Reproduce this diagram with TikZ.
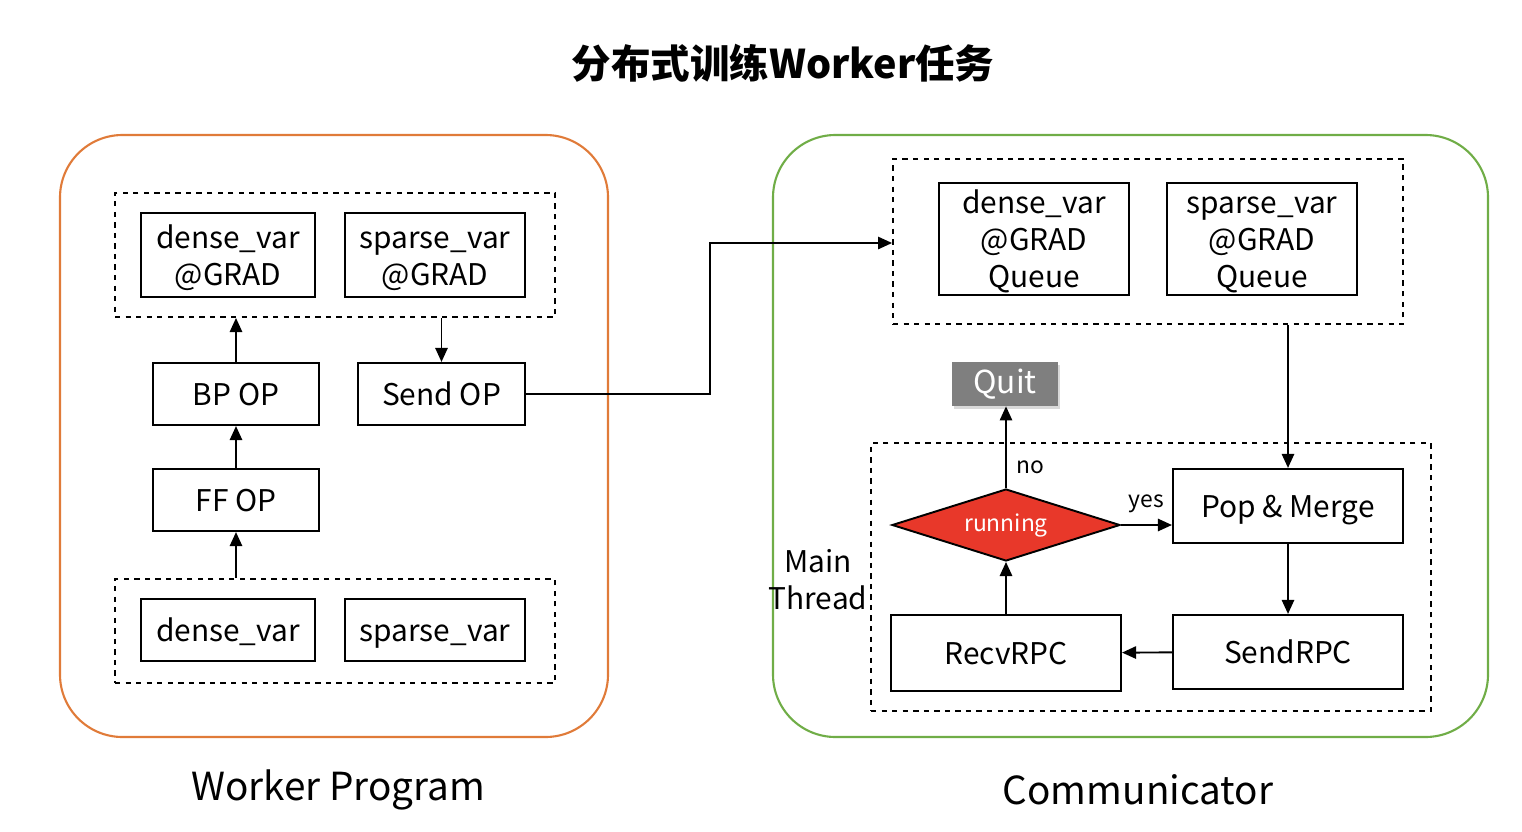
\documentclass[tikz,border=0pt]{standalone}
\usepackage{fontspec}
\setmainfont{Noto Sans CJK SC}
\usetikzlibrary{shapes.geometric,arrows.meta,shadows}
\definecolor{workerorange}{HTML}{E07B39}
\definecolor{commgreen}{HTML}{70AD47}
\definecolor{runred}{HTML}{E8382A}
\definecolor{quitgray}{HTML}{7F7F7F}
\begin{document}
\begin{tikzpicture}[x=0.02cm,y=-0.02cm,
    box/.style={draw,line width=1.2pt,inner sep=0pt,align=center,font=\fontsize{17}{21}\selectfont,
      text depth=0pt},
    group/.style={draw,dashed,line width=1.1pt},
    arr/.style={line width=1.1pt,-{Triangle[length=8pt,width=7pt]}},
    lbl/.style={font=\fontsize{13}{15}\selectfont}]
\useasboundingbox (0,0) rectangle (1522,832);

% Title
\node[font=\fontsize{22.5}{26}\selectfont\bfseries] (title) at (783,63) {分布式训练Worker任务};

% Outer frames
\draw[workerorange,line width=1.2pt,rounded corners=1.25cm] (60,135) rectangle (608,737);
\draw[commgreen,line width=1.2pt,rounded corners=1.25cm] (773,135) rectangle (1488,737);
\node[font=\fontsize{22}{26}\selectfont] (wplabel) at (338,790) {Worker Program};
\node[font=\fontsize{22}{26}\selectfont] (cmlabel) at (1138,790) {Communicator};

% Worker program
\node[group,minimum width=8.8cm,minimum height=2.48cm] (gradgrp) at (335,255) {};
\node[box,minimum width=3.48cm,minimum height=1.68cm] (densegrad) at (228,255) {dense\_var\\@GRAD};
\node[box,minimum width=3.6cm,minimum height=1.68cm] (sparsegrad) at (435,255) {\vphantom{d}sparse\_var\\@GRAD};
\node[box,minimum width=3.32cm,minimum height=1.24cm] (bpop) at (236,394) {BP OP};
\node[box,minimum width=3.34cm,minimum height=1.24cm] (sendop) at (441.5,394) {Send OP};
\node[box,minimum width=3.32cm,minimum height=1.24cm] (ffop) at (236,500) {FF OP};
\node[group,minimum width=8.8cm,minimum height=2.08cm] (vargrp) at (335,631) {};
\node[box,minimum width=3.48cm,minimum height=1.24cm] (densevar) at (228,630) {dense\_var};
\node[box,minimum width=3.6cm,minimum height=1.24cm] (sparsevar) at (435,630) {\vphantom{d}sparse\_var};

\draw[arr] (vargrp.north -| ffop) -- (ffop.south);
\draw[arr] (ffop) -- (bpop);
\draw[arr] (bpop) -- (gradgrp.south -| bpop);
\draw[arr] (gradgrp.south -| sendop) -- (sendop.north);

% Communicator
\node[group,minimum width=10.2cm,minimum height=3.3cm] (queuegrp) at (1148,241.5) {};
\node[box,minimum width=3.8cm,minimum height=2.24cm] (densequeue) at (1034,239) {dense\_var\\@GRAD\\Queue};
\node[box,minimum width=3.8cm,minimum height=2.24cm] (sparsequeue) at (1262,239) {\vphantom{d}sparse\_var\\@GRAD\\Queue};
\node[group,minimum width=11.2cm,minimum height=5.36cm] (maingrp) at (1151,577) {};
\node[font=\fontsize{17}{21}\selectfont,align=center] (mainlbl) at (818,580) {Main\\Thread};
\node[box,minimum width=4.6cm,minimum height=1.48cm] (popmerge) at (1288,506) {Pop \& Merge};
\node[box,minimum width=4.6cm,minimum height=1.48cm] (sendrpc) at (1288,652) {SendRPC};
\node[box,minimum width=4.6cm,minimum height=1.52cm] (recvrpc) at (1006,653) {RecvRPC};
\node[diamond,draw,line width=1.1pt,fill=runred,text=white,inner sep=0pt,aspect=3.2,
      minimum width=4.56cm,minimum height=1.44cm,lbl] (running) at (1006,525) {running};
\node[fill=quitgray,text=white,minimum width=2.12cm,minimum height=0.88cm,inner sep=0pt,
      drop shadow={shadow xshift=1pt,shadow yshift=-1.5pt,opacity=0.3},
      font=\fontsize{18}{21}\selectfont] (quit) at (1005,384) {Quit};

\draw[arr] (queuegrp.south -| popmerge) -- (popmerge.north);
\draw[arr] (popmerge) -- (sendrpc);
\draw[arr] (sendrpc) -- (recvrpc);
\draw[arr] (recvrpc) -- (running.south);
\draw[arr] (running.north) -- (quit.south -| running) node[lbl,pos=0.25,right=2pt] (nolbl) {no};
\draw[arr] (running.east) -- (popmerge.west |- running) node[lbl,midway,above=3pt] (yeslbl) {yes};

% Send OP to queues
\coordinate (bend) at (710,243);
\draw[arr] (sendop.east) -| (bend) -- (queuegrp.west |- bend);
\end{tikzpicture}
\end{document}
